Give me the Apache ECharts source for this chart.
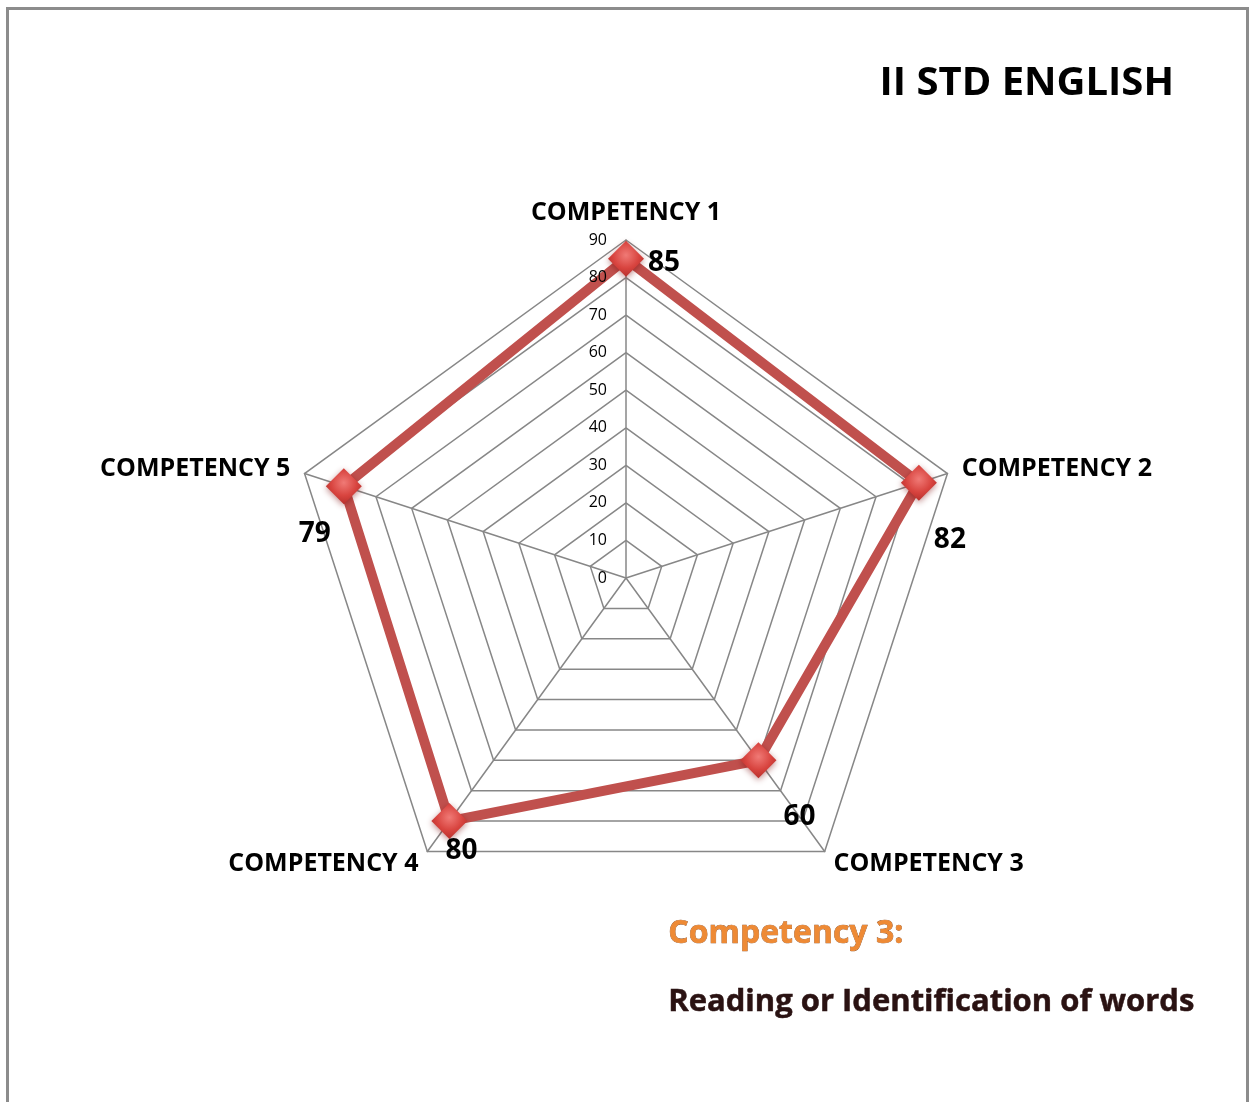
<!DOCTYPE html>
<html>
<head>
<meta charset="utf-8">
<script src="https://cdn.jsdelivr.net/npm/echarts@6/dist/echarts.min.js"></script>
<style>
html,body{margin:0;padding:0;background:#fff;}
#chart{width:1249px;height:1102px;}
</style>
</head>
<body>
<div id="chart"></div>
<script>
// ---- data ----
const categories = ['COMPETENCY 1', 'COMPETENCY 2', 'COMPETENCY 3', 'COMPETENCY 4', 'COMPETENCY 5'];
const scores = [85, 82, 60, 80, 79];
const axisMax = 90;
const tickStep = 10;
const titleText = 'II STD ENGLISH';
const noteHeading = 'Competency 3:';
const noteBody = 'Reading or Identification of words';

// ---- layout (not data) ----
const CX = 626, CY = 578, R = 338;
const labelOffsets = [[38, 4], [31, 57], [41, 57], [12, 30], [-29, 48]];
const FONT = '"Open Sans"';

// radar in ECharts runs counter-clockwise; the reference runs clockwise,
// so keep item 0 on top and reverse the rest.
const order = [0].concat(categories.map((_, i) => i).slice(1).reverse());
const radarNames = order.map(i => categories[i]);
const radarValues = order.map(i => scores[i]);

const chart = echarts.init(document.getElementById('chart'), null, {renderer: 'canvas'});

const option = {
  backgroundColor: '#fff',
  animation: false,
  graphic: [
    {type: 'rect', shape: {x: 7.5, y: 8.5, width: 1240, height: 1110},
     style: {fill: 'none', stroke: '#8c8c8c', lineWidth: 3}, silent: true},
    {type: 'text', right: 75, top: 64,
     style: {text: titleText, font: 'bold 40px ' + FONT, fill: '#000'}},
    {type: 'text', left: 668, top: 918,
     style: {text: noteHeading, font: 'bold 32px ' + FONT, fill: '#ee8a35',
             stroke: '#8a4a20', lineWidth: 0.6,
             shadowColor: 'rgba(60,20,0,0.55)', shadowBlur: 3, shadowOffsetX: 1, shadowOffsetY: 2}},
    {type: 'text', left: 668, top: 986,
     style: {text: noteBody, font: 'bold 31px ' + FONT, fill: '#2a1212',
             stroke: '#2a1212', lineWidth: 0.5,
             shadowColor: 'rgba(80,20,20,0.6)', shadowBlur: 3, shadowOffsetX: 1, shadowOffsetY: 2}}
  ],
  grid: {left: CX, top: CY - R, width: 1, height: R, containLabel: false, z: 10},
  xAxis: {type: 'value', show: false},
  yAxis: {
    type: 'value', min: 0, max: axisMax, interval: tickStep, z: 10,
    axisLine: {show: false}, axisTick: {show: false}, splitLine: {show: false},
    axisLabel: {margin: 19, fontSize: 16, fontFamily: FONT, color: '#000'}
  },
  radar: {
    center: [CX, CY],
    radius: R,
    startAngle: 90,
    shape: 'polygon',
    splitNumber: axisMax / tickStep,
    indicator: radarNames.map(n => ({name: n, min: 0, max: axisMax})),
    axisName: {color: '#000', fontSize: 25, fontWeight: 'bold', fontFamily: FONT},
    nameGap: 15,
    axisLine: {lineStyle: {color: '#878787', width: 1.5}},
    splitLine: {lineStyle: {color: '#878787', width: 1.5}},
    splitArea: {show: false},
    axisTick: {show: false},
    axisLabel: {show: false}
  },
  series: [{
    type: 'radar',
    z: 2,
    symbol: 'diamond',
    symbolSize: 36,
    lineStyle: {color: '#c0504d', width: 10},
    itemStyle: {
      color: new echarts.graphic.RadialGradient(0.5, 0.4, 0.6, [
        {offset: 0, color: '#f07a76'},
        {offset: 0.6, color: '#d8443f'},
        {offset: 1, color: '#b8302c'}
      ]),
      shadowColor: 'rgba(120,0,0,0.45)', shadowBlur: 6, shadowOffsetY: 2
    },
    label: {
      show: true, position: 'inside',
      color: '#000', fontSize: 28, fontWeight: 'bold', fontFamily: FONT
    },
    labelLayout: function (p) {
      const i = scores.indexOf(Number(p.text));
      const o = labelOffsets[i] || [0, 0];
      return {dx: o[0], dy: o[1]};
    },
    data: [{value: radarValues, name: titleText}]
  }]
};
chart.setOption(option);
</script>
</body>
</html>
